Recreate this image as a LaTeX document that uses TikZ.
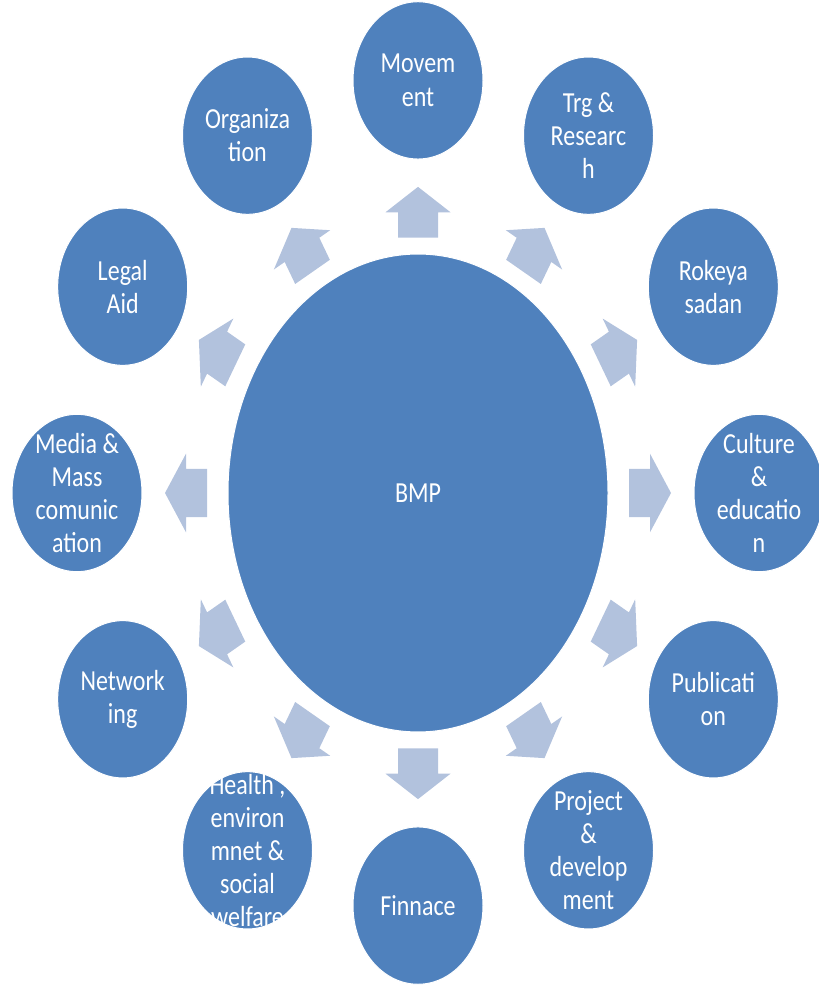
\documentclass[tikz,border=0pt]{standalone}
\usepackage{fontspec}
\setmainfont{Carlito}
\usetikzlibrary{shapes.geometric}
\definecolor{bmpblue}{RGB}{79,129,189}
\definecolor{arrowblue}{RGB}{178,194,221}

\begin{document}
\begin{tikzpicture}[x=1pt,y=1pt,
  hub/.style={ellipse,fill=bmpblue,draw=white,line width=1pt,minimum width=380pt,minimum height=395pt,inner sep=0pt},
  sat/.style={circle,fill=bmpblue,draw=white,line width=1pt,minimum size=130pt,inner sep=0pt},
  sattext/.style={text=white,align=center,inner sep=0pt,font=\fontsize{24}{27.3}\selectfont},
  blockarrow/.style={fill=arrowblue}]
\useasboundingbox (0,0) rectangle (819,985);
\begin{scope}[shift={(418,492)},yscale=1.21,transform shape]
\node[hub] (bmp) at (0,0) {};
\node[sattext] at (bmp) {BMP};
\foreach \a/\name/\txt in {90/movement/{Movem\\ent},60/trg/{Trg \&\\Researc\\h},30/rokeya/{Rokeya\\sadan},
  0/culture/{Culture\\\&\\educatio\\n},-30/publication/{Publicati\\on},-60/project/{Project\\\&\\develop\\ment},
  -90/finnace/{Finnace},-120/health/{Health ,\\environ\\mnet \&\\social\\welfare},-150/networking/{Network\\ing},
  180/media/{Media \&\\Mass\\comunic\\ation},150/legal/{Legal\\Aid},120/organization/{Organiza\\tion}}
{
  \node[sat] (\name) at (\a:341) {};
  \node[sattext] at (\name) {\txt};
  \fill[blockarrow,rotate=\a] (211,-20) -- (232,-20) -- (232,-32.5) -- (253,0) -- (232,32.5) -- (232,20) -- (211,20) -- cycle;
}
\end{scope}
\end{tikzpicture}
\end{document}
